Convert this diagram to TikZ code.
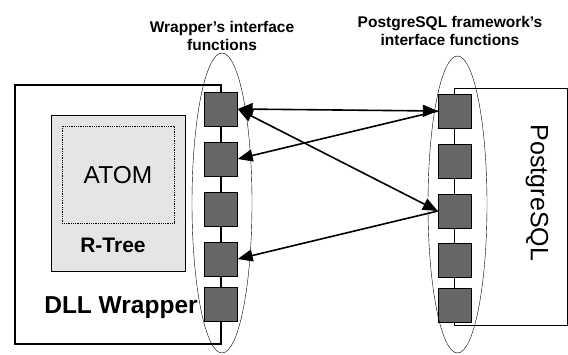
\documentclass[tikz,border=0pt]{standalone}
\usepackage{fontspec}
\setmainfont{Liberation Sans}
\usetikzlibrary{arrows.meta}
\tikzset{
  func/.style={draw=black,fill=black!60,minimum width=33pt,minimum height=34pt,inner sep=0pt},
  call/.style={line width=1.6pt,-{Triangle[length=15pt,width=12pt]}},
  both/.style={line width=1.6pt,{Triangle[length=15pt,width=12pt]}-{Triangle[length=15pt,width=12pt]}},
  title/.style={font=\bfseries\fontsize{15.5}{17.5}\selectfont,align=center}
}
\begin{document}
\begin{tikzpicture}[x=1pt,y=-1pt]
\useasboundingbox (0,0) rectangle (568,354);

% wrapper side
\draw[line width=1.2pt] (15,85) rectangle (221,344);
\draw[fill=black!10,line width=0.8pt] (51,115) rectangle (185,271);
\draw[densely dotted,line width=0.8pt] (62,126) rectangle (174,223);
\node[font=\fontsize{24.5}{26}\selectfont] (atom) at (118,175) {ATOM};
\node[font=\bfseries\fontsize{21}{24}\selectfont] (rtree) at (113,245) {R-Tree};
\node[font=\bfseries\fontsize{24.5}{26}\selectfont] (dll) at (121,308) {DLL Wrapper};

% postgres side
\draw[line width=0.6pt] (454,88) rectangle (567,325);
\node[font=\fontsize{25}{27}\selectfont,rotate=-90] (pg) at (537,193) {PostgreSQL};

% interface functions
\foreach \i/\y in {1/109,2/159,3/209,4/259,5/304}
  \node[func] (lf\i) at (221,\y) {};
\foreach \i/\y in {1/111,2/161,3/211,4/260,5/305}
  \node[func] (pf\i) at (454.5,\y) {};

\draw (222,203) ellipse (30 and 150);
\draw (457.5,204.5) ellipse (29.5 and 148.5);

\node[title] (wtitle) at (222,36) {Wrapper’s interface\\functions};
\node[title] (ptitle) at (450,31) {PostgreSQL framework’s\\interface functions};

% calls
\draw[both] (lf1.east) -- (pf1.west);
\draw[both] (lf1.east) -- (pf3.west);
\draw[call] (pf1.west) -- (lf2.east);
\draw[call] (pf3.west) -- (lf4.east);

\end{tikzpicture}
\end{document}
